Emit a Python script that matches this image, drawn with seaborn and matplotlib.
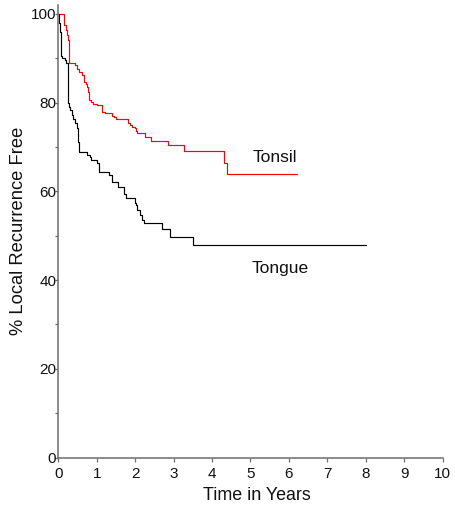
import matplotlib
matplotlib.use("Agg")
import matplotlib.pyplot as plt
import numpy as np
import pandas as pd
import seaborn as sns

# Kaplan-Meier step estimates: time (years) and % local recurrence free
tonsil_years = [0.00, 0.15, 0.20, 0.23, 0.25, 0.28, 0.43, 0.48, 0.54, 0.61,
                0.68, 0.71, 0.74, 0.78, 0.81, 0.84, 0.91, 1.00, 1.13, 1.21,
                1.40, 1.46, 1.51, 1.82, 1.87, 1.91, 2.00, 2.02, 2.04, 2.26,
                2.41, 2.86, 3.27, 4.31, 4.40, 6.20]
tonsil_free = [100.0, 97.5, 96.4, 95.3, 94.1, 89.0, 88.5, 87.5, 87.0, 86.2,
               84.7, 84.3, 83.6, 82.5, 80.6, 80.2, 79.7, 79.5, 77.9, 77.6,
               77.0, 76.8, 76.2, 75.3, 74.9, 74.5, 74.2, 73.6, 73.1, 72.3,
               71.3, 70.4, 69.1, 66.4, 64.0, 64.0]

tongue_years = [0.00, 0.03, 0.05, 0.06, 0.07, 0.08, 0.10, 0.17, 0.20, 0.24,
                0.25, 0.26, 0.28, 0.30, 0.35, 0.39, 0.43, 0.48, 0.50, 0.52,
                0.54, 0.74, 0.82, 0.85, 1.00, 1.06, 1.32, 1.40, 1.56, 1.72,
                1.75, 2.00, 2.03, 2.05, 2.13, 2.19, 2.24, 2.71, 2.91, 3.51,
                8.00]
tongue_free = [100.0, 98.0, 96.0, 94.0, 92.0, 90.5, 90.0, 89.6, 88.9, 88.0,
               84.0, 80.0, 79.0, 78.3, 77.2, 76.4, 75.3, 74.2, 72.7, 71.2,
               68.9, 68.2, 67.8, 67.0, 66.3, 64.4, 63.7, 62.1, 60.9, 59.5,
               58.4, 57.3, 56.9, 55.8, 54.6, 53.5, 52.9, 51.4, 49.6, 48.0,
               48.0]

x_ticks = list(range(0, 11))
y_ticks = [0, 20, 40, 60, 80, 100]
y_minor = [10, 30, 50, 70, 90]

sns.set_style("ticks")
plt.rcParams["font.family"] = ["Liberation Sans", "DejaVu Sans"]

df = pd.concat([
    pd.DataFrame({"years": tonsil_years, "free": tonsil_free, "site": "Tonsil"}),
    pd.DataFrame({"years": tongue_years, "free": tongue_free, "site": "Tongue"}),
])

fig = plt.figure(figsize=(4.56, 5.11), dpi=100)
ax = fig.add_axes([58.3 / 456, (511 - 457.5) / 511,
                   (442.7 - 58.3) / 456, (457.5 - 5) / 511])

sns.lineplot(data=df, x="years", y="free", hue="site",
             palette={"Tonsil": "#ff0000", "Tongue": "#000000"},
             hue_order=["Tonsil", "Tongue"], estimator=None,
             drawstyle="steps-post", linewidth=0.85, legend=False, ax=ax)

ax.set_xlim(0, 10)
ax.set_ylim(0, 102)
ax.set_xticks(x_ticks)
ax.set_yticks(y_ticks)
ax.set_yticks(y_minor, minor=True)

for side in ("top", "right"):
    ax.spines[side].set_visible(False)
for side in ("left", "bottom"):
    ax.spines[side].set_color("#6e6e6e")
    ax.spines[side].set_linewidth(1.1)

ax.tick_params(axis="x", which="major", direction="out", length=3, width=0.9,
               color="#6e6e6e", labelsize=11, pad=4, labelcolor="#111111")
ax.tick_params(axis="y", which="both", direction="out", length=2.5, width=0.9,
               color="#6e6e6e", labelsize=11, pad=-1, labelcolor="#111111")

ax.set_xlabel("Time in Years", fontsize=12.9, color="#111111", va="center")
ax.xaxis.set_label_coords(0.517, -0.083)
ax.set_ylabel("% Local Recurrence Free", fontsize=13.2, color="#111111",
              va="center")
ax.yaxis.set_label_coords(-0.103, 0.5)

ax.text(5.05, 66.5, "Tonsil", fontsize=12.6, color="#111111", va="baseline")
ax.text(5.03, 41.7, "Tongue", fontsize=12.6, color="#111111", va="baseline")

fig.savefig("out.png", dpi=100)
